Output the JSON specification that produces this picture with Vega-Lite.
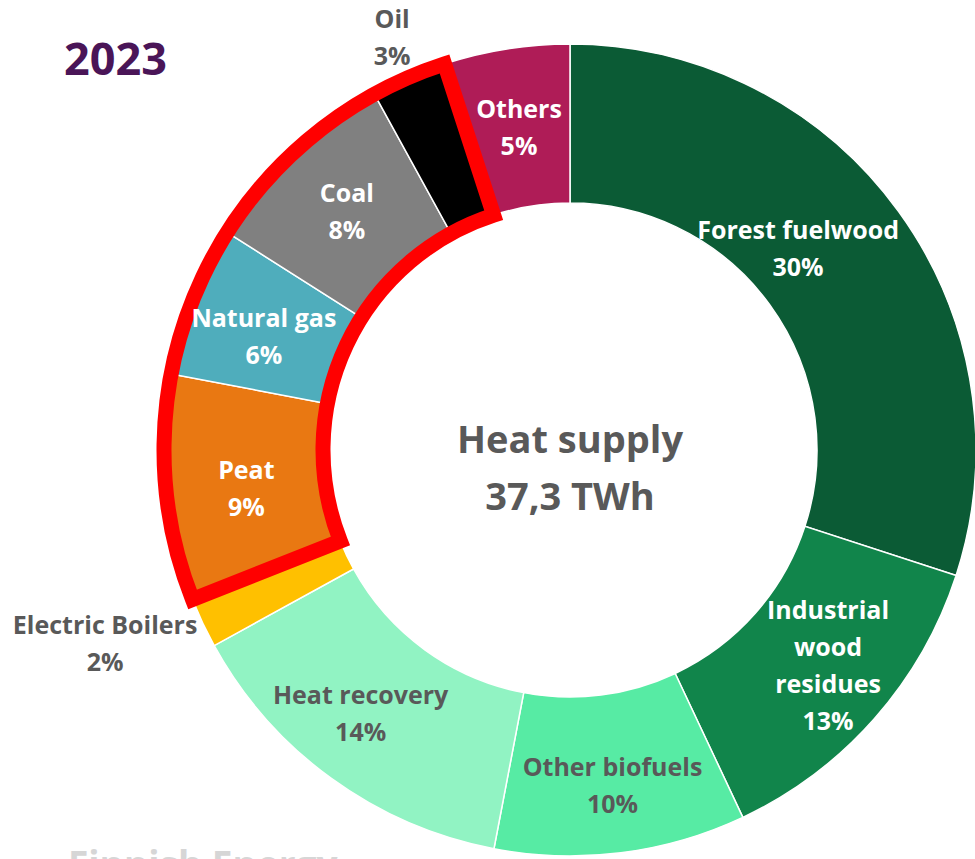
{
  "$schema": "https://vega.github.io/schema/vega-lite/v6.json",
  "width": 810,
  "height": 818,
  "autosize": {"type": "none"},
  "padding": {"left": 165, "top": 41, "right": 0, "bottom": 0},
  "background": "white",
  "config": {"view": {"stroke": null}},
  "title": {
    "text": "2023",
    "anchor": "start",
    "frame": "group",
    "dx": -101,
    "offset": -76,
    "font": "Open Sans",
    "fontSize": 45,
    "fontWeight": "bold",
    "color": "#4A1557"
  },
  "data": {
    "values": [
      {"idx": 1, "name": "Forest fuelwood", "share": 30, "label": "Forest fuelwood\n30%"},
      {"idx": 2, "name": "Industrial wood residues", "share": 13, "label": "Industrial\nwood\nresidues\n13%"},
      {"idx": 3, "name": "Other biofuels", "share": 10, "label": "Other biofuels\n10%"},
      {"idx": 4, "name": "Heat recovery", "share": 14, "label": "Heat recovery\n14%"},
      {"idx": 5, "name": "Electric Boilers", "share": 2, "label": "Electric Boilers\n2%"},
      {"idx": 6, "name": "Peat", "share": 9, "label": "Peat\n9%"},
      {"idx": 7, "name": "Natural gas", "share": 6, "label": "Natural gas\n6%"},
      {"idx": 8, "name": "Coal", "share": 8, "label": "Coal\n8%"},
      {"idx": 9, "name": "Oil", "share": 3, "label": "Oil\n3%"},
      {"idx": 10, "name": "Others", "share": 5, "label": "Others\n5%"}
    ]
  },
  "layer": [
    {
      "mark": {"type": "arc", "innerRadius": 247, "outerRadius": 406, "stroke": "white", "strokeWidth": 1.5},
      "encoding": {
        "theta": {"field": "share", "type": "quantitative", "stack": true, "scale": {"domain": [0, 100]}},
        "order": {"field": "idx", "type": "quantitative"},
        "color": {
          "field": "name",
          "type": "nominal",
          "scale": {
            "domain": ["Forest fuelwood", "Industrial wood residues", "Other biofuels", "Heat recovery", "Electric Boilers", "Peat", "Natural gas", "Coal", "Oil", "Others"],
            "range": ["#0B5B35", "#11854B", "#57EBA4", "#91F3C3", "#FFC000", "#E97812", "#4FADBC", "#808080", "#000000", "#AF1C57"]
          },
          "legend": null
        }
      }
    },
    {
      "transform": [
        {"stack": "share", "groupby": [], "sort": [{"field": "idx"}], "as": ["t0", "t1"]},
        {"filter": {"field": "name", "oneOf": ["Peat", "Natural gas", "Coal", "Oil"]}},
        {"aggregate": [{"op": "min", "field": "t0", "as": "a0"}, {"op": "max", "field": "t1", "as": "a1"}]}
      ],
      "mark": {"type": "arc", "innerRadius": 247, "outerRadius": 406, "filled": false, "stroke": "#FF0000", "strokeWidth": 15, "strokeJoin": "miter"},
      "encoding": {
        "theta": {"field": "a0", "type": "quantitative", "scale": {"domain": [0, 100]}},
        "theta2": {"field": "a1"}
      }
    },
    {
      "mark": {"type": "text", "radius": 326, "thetaOffset": -0.026, "font": "Open Sans", "fontSize": 25, "fontWeight": "bold", "lineBreak": "\n", "lineHeight": 37, "align": "center", "baseline": "middle", "dy": -18.5, "color": "white"},
      "encoding": {
        "theta": {"field": "share", "type": "quantitative", "stack": true},
        "order": {"field": "idx", "type": "quantitative"},
        "detail": {"field": "name"},
        "text": {"condition": {"test": "datum.name === 'Peat' || datum.name === 'Natural gas'", "field": "label"}, "value": ""}
      }
    },
    {
      "mark": {"type": "text", "radius": 326, "font": "Open Sans", "fontSize": 25, "fontWeight": "bold", "lineBreak": "\n", "lineHeight": 37, "align": "center", "baseline": "middle", "dy": -18.5, "color": "white"},
      "encoding": {
        "theta": {"field": "share", "type": "quantitative", "stack": true},
        "order": {"field": "idx", "type": "quantitative"},
        "detail": {"field": "name"},
        "text": {"condition": {"test": "datum.name === 'Coal' || datum.name === 'Others'", "field": "label"}, "value": ""}
      }
    },
    {
      "mark": {"type": "text", "radius": 339, "font": "Open Sans", "fontSize": 25, "fontWeight": "bold", "lineBreak": "\n", "lineHeight": 37, "align": "center", "baseline": "middle", "dy": -18.5, "color": "#595959"},
      "encoding": {
        "theta": {"field": "share", "type": "quantitative", "stack": true},
        "order": {"field": "idx", "type": "quantitative"},
        "detail": {"field": "name"},
        "text": {"condition": {"test": "datum.name === 'Other biofuels'", "field": "label"}, "value": ""}
      }
    },
    {
      "mark": {"type": "text", "radius": 337, "thetaOffset": 0.042, "font": "Open Sans", "fontSize": 25, "fontWeight": "bold", "lineBreak": "\n", "lineHeight": 37, "align": "center", "baseline": "middle", "dy": -18.5, "color": "#595959"},
      "encoding": {
        "theta": {"field": "share", "type": "quantitative", "stack": true},
        "order": {"field": "idx", "type": "quantitative"},
        "detail": {"field": "name"},
        "text": {"condition": {"test": "datum.name === 'Heat recovery'", "field": "label"}, "value": ""}
      }
    },
    {
      "mark": {"type": "text", "radius": 304, "thetaOffset": -0.094, "font": "Open Sans", "fontSize": 25, "fontWeight": "bold", "lineBreak": "\n", "lineHeight": 37, "align": "center", "baseline": "middle", "dy": -18.5, "color": "white"},
      "encoding": {
        "theta": {"field": "share", "type": "quantitative", "stack": true},
        "order": {"field": "idx", "type": "quantitative"},
        "detail": {"field": "name"},
        "text": {"condition": {"test": "datum.name === 'Forest fuelwood'", "field": "label"}, "value": ""}
      }
    },
    {
      "mark": {"type": "text", "radius": 337, "thetaOffset": -0.024, "font": "Open Sans", "fontSize": 25, "fontWeight": "bold", "lineBreak": "\n", "lineHeight": 37, "align": "center", "baseline": "middle", "dy": -55.5, "color": "white"},
      "encoding": {
        "theta": {"field": "share", "type": "quantitative", "stack": true},
        "order": {"field": "idx", "type": "quantitative"},
        "detail": {"field": "name"},
        "text": {"condition": {"test": "datum.name === 'Industrial wood residues'", "field": "label"}, "value": ""}
      }
    },
    {
      "transform": [
        {"stack": "share", "groupby": [], "sort": [{"field": "idx"}], "as": ["t0", "t1"]},
        {"filter": {"field": "name", "equal": "Oil"}}
      ],
      "mark": {"type": "text", "radius": 448, "thetaOffset": 0.0942, "font": "Open Sans", "fontSize": 25, "fontWeight": "bold", "lineBreak": "\n", "lineHeight": 37, "align": "center", "baseline": "middle", "dy": -18.5, "color": "#595959"},
      "encoding": {
        "theta": {"field": "t0", "type": "quantitative", "scale": {"domain": [0, 100]}},
        "text": {"field": "label"}
      }
    },
    {
      "transform": [
        {"stack": "share", "groupby": [], "sort": [{"field": "idx"}], "as": ["t0", "t1"]},
        {"filter": {"field": "name", "equal": "Electric Boilers"}}
      ],
      "mark": {"type": "text", "radius": 504, "thetaOffset": 0.1064, "font": "Open Sans", "fontSize": 25, "fontWeight": "bold", "lineBreak": "\n", "lineHeight": 37, "align": "center", "baseline": "middle", "dy": -18.5, "color": "#595959"},
      "encoding": {
        "theta": {"field": "t0", "type": "quantitative", "scale": {"domain": [0, 100]}},
        "text": {"field": "label"}
      }
    },
    {
      "transform": [{"aggregate": [{"op": "sum", "field": "share", "as": "total"}]}],
      "mark": {"type": "text", "text": ["Heat supply", "37,3 TWh"], "font": "Open Sans", "fontSize": 38, "fontWeight": "bold", "lineHeight": 57, "align": "center", "baseline": "alphabetic", "dy": 3, "color": "#595959"},
      "encoding": {}
    },
    {
      "transform": [{"aggregate": [{"op": "sum", "field": "share", "as": "total"}]}],
      "mark": {"type": "text", "text": "Finnish Energy", "font": "Open Sans", "fontSize": 37, "fontWeight": "bold", "align": "left", "baseline": "alphabetic", "color": "#D6D6D6"},
      "encoding": {"x": {"value": -97}, "y": {"value": 837}}
    }
  ]
}
